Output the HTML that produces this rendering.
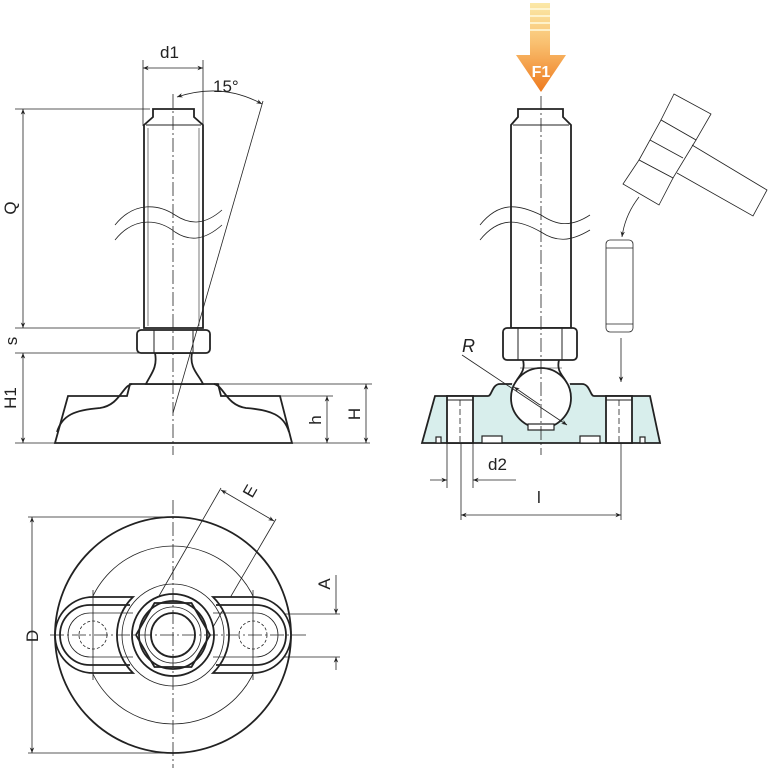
<!DOCTYPE html>
<html><head><meta charset="utf-8"><style>
html,body{margin:0;padding:0;background:#fff}
svg{display:block}
text{font-family:"Liberation Sans",sans-serif;fill:#222}
</style></head><body>
<svg width="768" height="768" viewBox="0 0 768 768" xmlns="http://www.w3.org/2000/svg">
<defs>
<marker id="a" viewBox="0 0 10 10" refX="10" refY="5" markerWidth="7" markerHeight="7" orient="auto-start-reverse"><path d="M0,1 L10,5 L0,9 L3,5 z" fill="#222"/></marker>
<linearGradient id="g" x1="0" y1="0" x2="0" y2="1"><stop offset="0" stop-color="#fbe9a8"/><stop offset="0.45" stop-color="#f9c070"/><stop offset="1" stop-color="#ee7a1e"/></linearGradient>
</defs>
<g fill="none" stroke="#222">
<!-- LEFT VIEW -->
<g stroke-width="0.8">
<line x1="143" y1="60" x2="143" y2="126"/><line x1="203" y1="60" x2="203" y2="126"/>
<line x1="143" y1="68" x2="203" y2="68" marker-start="url(#a)" marker-end="url(#a)"/>
<line x1="15" y1="109" x2="150" y2="109"/>
<line x1="15" y1="328" x2="140" y2="328"/><line x1="15" y1="353" x2="140" y2="353"/>
<line x1="15" y1="443" x2="370" y2="443"/>
<line x1="23" y1="109" x2="23" y2="328" marker-start="url(#a)" marker-end="url(#a)"/>
<line x1="23" y1="353" x2="23" y2="443" marker-start="url(#a)" marker-end="url(#a)"/>
<line x1="218" y1="384" x2="372" y2="384"/><line x1="280" y1="396" x2="333" y2="396"/>
<line x1="366" y1="384" x2="366" y2="443" marker-start="url(#a)" marker-end="url(#a)"/>
<line x1="327" y1="396" x2="327" y2="443" marker-start="url(#a)" marker-end="url(#a)"/>
<path d="M177,97 Q222,82 262,104" marker-start="url(#a)" marker-end="url(#a)"/>
<line x1="60" y1="432" x2="288" y2="432"/>
</g>
<g stroke-width="1.8" fill="#fff">
<path d="M153,109 H194 V117 L203,125 V328 H144 V125 L153,117 Z"/>
<path d="M55,443 L68,396 H127 L130,384 H218 L221,396 H280 L292,443 Z"/>
<path d="M57,432 C62,415 75,410 100,408 C120,405 122,386 132,384 M289,432 C284,415 271,410 246,408 C226,405 224,386 214,384" fill="none"/>
<path d="M155,353 C158,368 150,375 146,384 H203 C199,375 189,368 192,353 Z"/>
<rect x="137" y="330" width="73" height="23" rx="4"/>
</g>
<g stroke-width="1">
<line x1="154" y1="330" x2="154" y2="353"/><line x1="193" y1="330" x2="193" y2="353"/>
<line x1="146" y1="125" x2="201" y2="125"/>
<line x1="148" y1="128" x2="148" y2="326" stroke-width="0.6"/><line x1="199" y1="128" x2="199" y2="326" stroke-width="0.6"/>
</g>
<g stroke-width="0.8">
<line x1="173" y1="413" x2="263" y2="101"/>
<path d="M115,225 C135,200 160,205 175,215 C190,225 205,225 222,210"/>
<path d="M115,240 C135,215 160,220 175,232 C190,242 205,240 222,225"/>
</g>
<line x1="173" y1="94" x2="173" y2="455" stroke-width="0.8" stroke-dasharray="14,3,2,3"/>

<!-- RIGHT VIEW -->
<g stroke-width="0.8">
<line x1="447" y1="400" x2="447" y2="488"/><line x1="473" y1="400" x2="473" y2="488"/>
<line x1="430" y1="480" x2="447" y2="480" marker-end="url(#a)"/>
<line x1="516" y1="480" x2="473" y2="480" marker-end="url(#a)"/>
<line x1="461" y1="440" x2="461" y2="520"/><line x1="621" y1="440" x2="621" y2="520"/>
<line x1="461" y1="515" x2="621" y2="515" marker-start="url(#a)" marker-end="url(#a)"/>
<path d="M639,197 Q625,215 622,237" marker-end="url(#a)"/>
<line x1="621" y1="338" x2="621" y2="382" marker-end="url(#a)"/>
<path d="M674,94 L711,114 L696,140 L661,120 Z" fill="#fff"/>
<path d="M661,120 L696,140 L673,178 L639,160 Z" fill="#fff"/>
<line x1="650" y1="140" x2="683" y2="158"/>
<path d="M639,160 L673,178 L659,205 L623,184 Z" fill="#fff"/>
<path d="M692,145 L767,190 L753,216 L677,173"/>
<rect x="606" y="240" width="27" height="92" rx="4"/>
<line x1="606" y1="248" x2="633" y2="248"/><line x1="606" y1="324" x2="633" y2="324"/>
</g>
<g stroke-width="1.8">
<path d="M422,443 L435,396 H488 C492,396 492,384 500,384 H582 C590,384 590,396 594,396 H650 L660,443 Z" fill="#d8eeec"/>
<path d="M523,360 C526,372 512,378 512,385 L570,385 C570,378 556,372 559,360 Z" fill="#fff" stroke="none"/>
<path d="M523,360 C526,372 518,376 516,382 M559,360 C556,372 564,376 566,382"/>
<circle cx="541" cy="398" r="30" fill="#fff"/>
<rect x="528" y="424" width="26" height="6" fill="#fff" stroke-width="1.2"/>
<path d="M518,109 H563 V117 L571,125 V328 H511 V125 L518,117 Z" fill="#fff"/>
<rect x="503" y="328" width="74" height="32" rx="4" fill="#fff"/>
<rect x="447" y="396" width="26" height="47" fill="#fff"/>
<rect x="606" y="396" width="26" height="47" fill="#fff"/>
<rect x="482" y="436" width="20" height="7" fill="#fff" stroke-width="1.2"/>
<rect x="580" y="436" width="20" height="7" fill="#fff" stroke-width="1.2"/>
<rect x="436" y="437" width="5" height="6" fill="#fff" stroke-width="1.2"/>
<rect x="640" y="437" width="5" height="6" fill="#fff" stroke-width="1.2"/>
</g>
<g stroke-width="1">
<line x1="518" y1="328" x2="518" y2="360"/><line x1="562" y1="328" x2="562" y2="360"/>
<line x1="513" y1="125" x2="569" y2="125"/>
<line x1="447" y1="400" x2="473" y2="400"/><line x1="606" y1="400" x2="632" y2="400"/>
<line x1="520" y1="368" x2="562" y2="368" stroke-width="0.6"/>
</g>
<g stroke-width="0.8">
<path d="M480,225 C500,200 520,205 541,215 C556,225 570,228 590,215"/>
<path d="M480,240 C500,215 520,220 541,232 C556,242 570,242 590,230"/>
<line x1="462" y1="355" x2="567" y2="425" marker-end="url(#a)"/>
<line x1="540" y1="405" x2="514" y2="387" marker-end="url(#a)"/>
</g>
<line x1="541" y1="96" x2="541" y2="455" stroke-width="0.8" stroke-dasharray="14,3,2,3"/>
<line x1="460" y1="400" x2="460" y2="443" stroke-width="0.8" stroke-dasharray="6,3"/>
<line x1="619" y1="400" x2="619" y2="443" stroke-width="0.8" stroke-dasharray="6,3"/>

<!-- BOTTOM VIEW -->
<g stroke-width="0.8">
<line x1="28" y1="517" x2="173" y2="517"/><line x1="28" y1="753" x2="173" y2="753"/>
<line x1="32" y1="517" x2="32" y2="753" marker-start="url(#a)" marker-end="url(#a)"/>
<line x1="253" y1="614" x2="340" y2="614"/><line x1="253" y1="657" x2="340" y2="657"/>
<line x1="336" y1="575" x2="336" y2="614" marker-end="url(#a)"/>
<line x1="336" y1="670" x2="336" y2="657" marker-end="url(#a)"/>
<line x1="159" y1="596" x2="221" y2="488"/><line x1="213" y1="627" x2="276" y2="519"/>
<line x1="221" y1="490" x2="274" y2="521" marker-start="url(#a)" marker-end="url(#a)"/>
<circle cx="173" cy="635" r="89"/>
<circle cx="173" cy="635" r="51"/>
<circle cx="173" cy="635" r="28"/>
</g>
<g stroke-width="1.8">
<circle cx="173" cy="635" r="118"/>
<path d="M133,597 H93 A38,38 0 0 0 93,673 H133 A53,53 0 0 1 133,597 Z" fill="#fff"/>
<path d="M213,597 H253 A38,38 0 0 1 253,673 H213 A53,53 0 0 0 213,597 Z" fill="#fff"/>
<path d="M130,605 H90 A30,30 0 0 0 90,665 H130 M216,605 H256 A30,30 0 0 1 256,665 H216"/>
<circle cx="173" cy="635" r="41"/>
<polygon points="210,635 191.5,667 154.5,667 136,635 154.5,603 191.5,603"/>
<circle cx="173" cy="635" r="34"/>
<circle cx="173" cy="635" r="22"/>
</g>
<g stroke-width="0.8">
<path d="M133,613 H90 A22,22 0 0 0 90,657 H133 M213,613 H256 A22,22 0 0 1 256,657 H213"/>
<circle cx="93" cy="635" r="14" stroke-dasharray="3,2"/>
<circle cx="253" cy="635" r="14" stroke-dasharray="3,2"/>
<line x1="93" y1="590" x2="93" y2="680"/><line x1="253" y1="590" x2="253" y2="680"/>
<line x1="50" y1="635" x2="306" y2="635" stroke-dasharray="14,3,2,3"/>
<line x1="173" y1="500" x2="173" y2="768" stroke-dasharray="14,3,2,3"/>
</g>
</g>
<!-- F1 arrow -->
<path d="M530,3 H550 V55 H566 L541,92 L516,55 H530 Z" fill="url(#g)"/>
<g stroke="#fffbe0" stroke-width="1.5"><line x1="530" y1="9" x2="550" y2="9"/><line x1="530" y1="16" x2="550" y2="16"/><line x1="530" y1="23" x2="550" y2="23"/><line x1="530" y1="30" x2="550" y2="30"/></g>
<text x="541" y="77" font-size="16" font-weight="bold" text-anchor="middle" style="fill:#fff">F1</text>
<!-- labels -->
<text x="160" y="58" font-size="17">d1</text>
<text x="213" y="92" font-size="17">15°</text>
<text transform="translate(16,208) rotate(-90)" font-size="17" text-anchor="middle">Q</text>
<text transform="translate(17,341) rotate(-90)" font-size="17" text-anchor="middle">s</text>
<text transform="translate(16,398) rotate(-90)" font-size="17" text-anchor="middle">H1</text>
<text transform="translate(360,414) rotate(-90)" font-size="17" text-anchor="middle">H</text>
<text transform="translate(321,420) rotate(-90)" font-size="17" text-anchor="middle">h</text>
<text x="462" y="352" font-size="18" font-style="italic">R</text>
<text x="488" y="470" font-size="17">d2</text>
<text x="537" y="503" font-size="17">l</text>
<text transform="translate(38,636) rotate(-90)" font-size="17" text-anchor="middle">D</text>
<text transform="translate(330,584) rotate(-90)" font-size="17" text-anchor="middle">A</text>
<text transform="translate(255,494) rotate(-60)" font-size="17" text-anchor="middle">E</text>
</svg>
</body></html>
